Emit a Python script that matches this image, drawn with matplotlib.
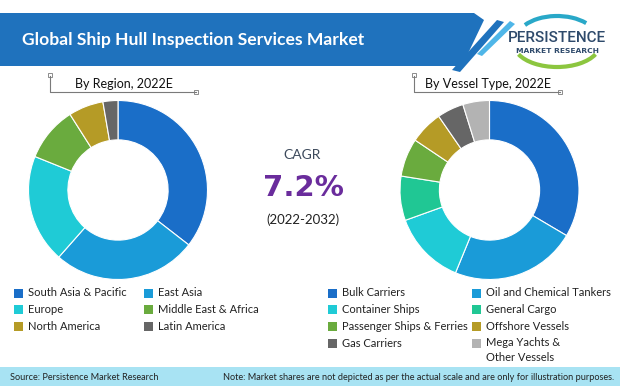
import matplotlib
matplotlib.use("Agg")
import matplotlib.pyplot as plt
from matplotlib.patches import Rectangle, Polygon, Arc

# ---------------- data ----------------
title = "Global Ship Hull Inspection Services Market"
region_title = "By Region, 2022E"
region_labels = ["South Asia & Pacific", "East Asia", "Europe",
                 "Middle East & Africa", "North America", "Latin America"]
region_values = [35.5, 26.0, 19.6, 9.9, 6.3, 2.7]
region_colors = ["#1a6ec8", "#1a9bd8", "#1fcbd6", "#6aab3e", "#b59b26", "#666666"]

vessel_title = "By Vessel Type, 2022E"
vessel_labels = ["Bulk Carriers", "Oil and Chemical Tankers", "Container Ships",
                 "General Cargo", "Passenger Ships & Ferries", "Offshore Vessels",
                 "Gas Carriers", "Mega Yachts &\nOther Vessels"]
vessel_values = [33.5, 22.7, 13.3, 8.0, 6.9, 6.0, 4.8, 4.8]
vessel_colors = ["#1a6ec8", "#1a9bd8", "#1fcbd6", "#20c794", "#6aab3e", "#b59b26",
                 "#666666", "#b3b3b3"]

cagr_label = "CAGR"
cagr_value = "7.2%"
cagr_period = "(2022-2032)"
source_text = "Source: Persistence Market Research"
note_text = "Note: Market shares are not depicted as per the actual scale and are only for illustration purposes."

# ---------------- figure ----------------
W, H = 620, 386
fig = plt.figure(figsize=(W / 100, H / 100), dpi=100)
fig.patch.set_facecolor("white")
bg = fig.add_axes([0, 0, 1, 1])
bg.set_xlim(0, W)
bg.set_ylim(H, 0)
bg.axis("off")

FONT = "Lato"

# banner
bg.add_patch(Polygon([(0, 13), (474, 13), (484, 20), (462, 66), (0, 66)],
                     closed=True, facecolor="#1f72bd", edgecolor="none"))
bg.add_patch(Polygon([(497, 20), (504, 22), (460, 72), (452, 70)], closed=True,
                     facecolor="#1f72bd", edgecolor="none"))
bg.add_patch(Polygon([(510, 21), (515, 24), (482, 56), (477, 54)], closed=True,
                     facecolor="#4fb6e8", edgecolor="none"))
bg.text(22, 40, title, color="white", fontsize=12.6, fontweight="bold",
        family=FONT, va="center", ha="left")

# logo
bg.add_patch(Arc((557, 44), 86, 46, theta1=15, theta2=165, color="#8cc63f", lw=3))
bg.add_patch(Arc((557, 40), 82, 48, theta1=205, theta2=330, color="#29a8c8", lw=3))
bg.text(557, 38, "PERSISTENCE", color="#2e4a6b", fontsize=11, fontweight="medium",
        family="Roboto", ha="center", va="center")
bg.text(557, 51, "MARKET RESEARCH", color="#2e4a6b", fontsize=5.4, fontweight="bold",
        family="DejaVu Sans", ha="center", va="center")

# section headers with bracket
def header(x0, x1, y, text, tx):
    bg.plot([x0, x0, x1], [76, y, y], color="#7a7a7a", lw=0.8)
    bg.add_patch(Rectangle((x0 - 2, 73), 4, 4, facecolor="white", edgecolor="#7a7a7a", lw=0.6))
    bg.add_patch(Rectangle((x1 - 2, y - 2), 4, 4, facecolor="white", edgecolor="#7a7a7a", lw=0.6))
    bg.text(tx, 84, text, fontsize=9, family=FONT, ha="center", va="center", color="#111111")

header(50, 196, 92, region_title, 124)
header(414, 560, 92, vessel_title, 488)

# donuts
def donut(cx, cy, r, values, colors):
    ax = fig.add_axes([(cx - r) / W, (H - cy - r) / H, 2 * r / W, 2 * r / H])
    ax.pie(values, colors=colors, startangle=90, counterclock=False,
           wedgeprops=dict(width=0.44, edgecolor="white", linewidth=0.8))
    ax.set_xlim(-1, 1)
    ax.set_ylim(-1, 1)
    ax.set_aspect("equal")
    ax.axis("off")

donut(118, 190, 89.5, region_values, region_colors)
donut(489.5, 190, 89.5, vessel_values, vessel_colors)

# CAGR
bg.text(302, 155, cagr_label, fontsize=10, family=FONT, color="#3d4a5c", ha="center", va="center")
bg.text(303, 188, cagr_value, fontsize=21, fontweight="bold", family="DejaVu Sans",
        color="#6a2c9c", ha="center", va="center")
bg.text(303, 220, cagr_period, fontsize=9.5, family=FONT, color="#222222", ha="center", va="center")

# legends
def legend(labels, colors, xs, y0, dy):
    for i, (lab, col) in enumerate(zip(labels, colors)):
        x = xs[i % 2]
        y = y0 + (i // 2) * dy
        bg.add_patch(Rectangle((x, y - 4.5), 9, 9, facecolor=col, edgecolor="none"))
        if "\n" in lab:
            bg.text(x + 14, y - 6.5, lab, fontsize=8.0, family=FONT, color="#222222",
                    ha="left", va="top", linespacing=1.5)
        else:
            bg.text(x + 14, y, lab, fontsize=8.0, family=FONT, color="#222222",
                    ha="left", va="center")

legend(region_labels, region_colors, [14, 144], 293, 16.7)
legend(vessel_labels, vessel_colors, [328, 472], 293, 16.7)

# footer
bg.add_patch(Rectangle((0, 367), W, H - 367, facecolor="#a8e3f3", edgecolor="none"))
bg.text(10, 377, source_text, fontsize=6.6, family=FONT, color="#222222", ha="left", va="center")
bg.text(614, 377, note_text, fontsize=6.6, family=FONT, color="#222222", ha="right", va="center")

fig.savefig("out.png", dpi=100)
